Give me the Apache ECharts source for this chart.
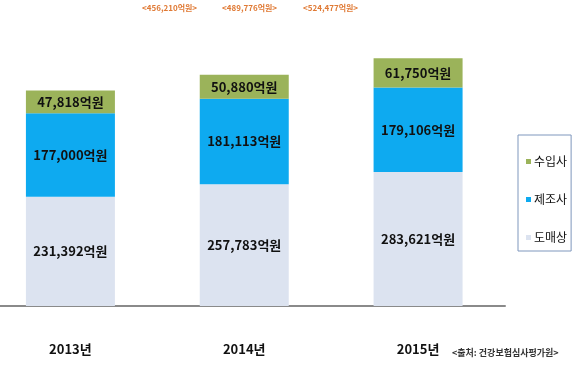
<!DOCTYPE html>
<html><head><meta charset="utf-8">
<script src="https://cdn.jsdelivr.net/npm/echarts@6/dist/echarts.min.js"></script>
<style>html,body{margin:0;padding:0;background:#fff}#c{width:580px;height:365px}</style>
</head><body><div id="c"></div>
<script>
const years = ['2013년', '2014년', '2015년'];
const wholesale = [231392, 257783, 283621];   // 도매상
const maker = [177000, 181113, 179106];       // 제조사
const importer = [47818, 50880, 61750];       // 수입사
const seriesNames = ['도매상', '제조사', '수입사'];
const sourceText = '<출처: 건강보험심사평가원>';

const totals = years.map((_, i) => wholesale[i] + maker[i] + importer[i]);
const fmt = v => v.toLocaleString('en-US') + '억원';
const font = "'Noto Sans CJK KR',sans-serif";

const chart = echarts.init(document.getElementById('c'), null, {renderer: 'canvas'});
const labelCfg = {
  show: true, position: 'inside', color: '#111', fontWeight: 'bold',
  fontSize: 13, fontFamily: font,
  formatter: p => fmt(p.value)
};
const mk = (name, data, color) => ({
  name, type: 'bar', stack: 'a', barWidth: 89, data,
  itemStyle: {color}, label: labelCfg, emphasis: {disabled: true}
});
const topX = [167, 247, 328];
chart.setOption({
  animation: false,
  grid: {left: -16.5, right: 75, top: 0, bottom: 59, outerBoundsMode: 'none', containLabel: false},
  xAxis: {
    type: 'category', data: years,
    axisLine: {lineStyle: {color: '#8a8a8a', width: 2}},
    axisTick: {show: false},
    axisLabel: {color: '#111', fontSize: 13, fontWeight: 'bold', fontFamily: font, margin: 37}
  },
  yAxis: {type: 'value', min: 0, max: 648000, show: false, splitLine: {show: false}},
  legend: {
    data: ['수입사', '제조사', '도매상'],
    orient: 'vertical', left: 518, top: 135,
    padding: [18, 4, 5, 8], itemGap: 21,
    itemWidth: 5, itemHeight: 5, icon: 'rect',
    borderColor: '#7f97bd', borderWidth: 1,
    textStyle: {fontSize: 12, lineHeight: 17, color: '#111', fontFamily: font, padding: [0, 0, 0, -2]}
  },
  series: [
    mk(seriesNames[0], wholesale, '#dce3f0'),
    mk(seriesNames[1], maker, '#0eaaf0'),
    mk(seriesNames[2], importer, '#9bb35a')
  ],
  graphic: totals.map((t, i) => ({
    type: 'text', left: topX[i] - 25, top: 4,
    style: {text: '<' + fmt(t) + '>', fill: '#e07a35', fontSize: 8, fontWeight: 'bold',
            fontFamily: font}
  })).concat([{
    type: 'text', left: 452, top: 348,
    style: {text: sourceText, fill: '#333', fontSize: 9, fontWeight: 'bold', fontFamily: font}
  }])
});
</script></body></html>
